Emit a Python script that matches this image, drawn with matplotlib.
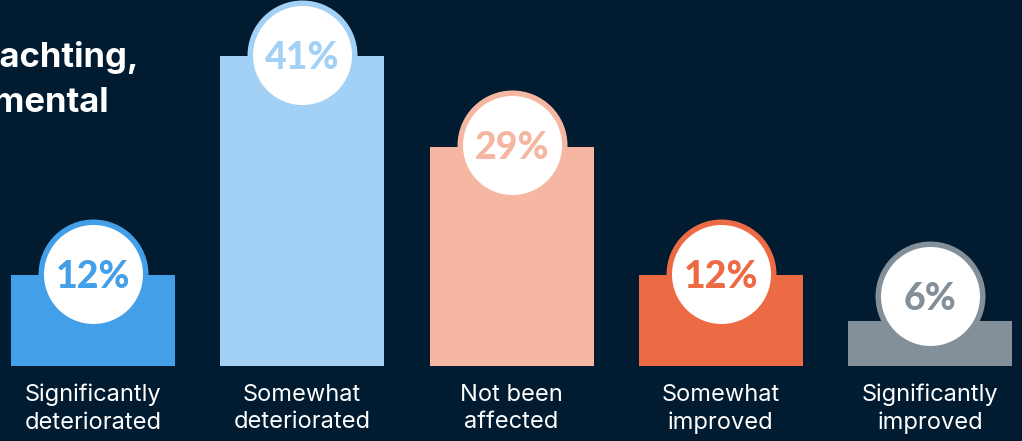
import matplotlib
matplotlib.use("Agg")
import matplotlib.pyplot as plt

categories = ["Significantly\ndeteriorated", "Somewhat\ndeteriorated", "Not been\naffected",
              "Somewhat\nimproved", "Significantly\nimproved"]
values = [12, 41, 29, 12, 6]
labels = ["12%", "41%", "29%", "12%", "6%"]
colors = ["#439fe8", "#a3d0f5", "#f5b7a2", "#ec6b45", "#838f99"]
title_lines = ["Since you started yachting,", "how has your mental"]

BG = "#011b31"
W, H, DPI = 1022, 441, 100
fig = plt.figure(figsize=(W / DPI, H / DPI), dpi=DPI, facecolor=BG)
ax = fig.add_axes([0, 0, 1, 1])
ax.set_facecolor(BG)

px_x = 209.25          # pixels per category step
px_y = 7.56            # pixels per percent
x0_px = 93             # first bar center
base_px = 75           # baseline from bottom
ax.set_xlim(-x0_px / px_x, (W - x0_px) / px_x)
ax.set_ylim(-base_px / px_y, (H - base_px) / px_y)
ax.axis("off")

xs = list(range(len(values)))
ax.bar(xs, values, width=164 / px_x, color=colors, zorder=1)

pt = 72 / DPI
outer_d = 110 * pt
inner_d = 99 * pt
for x, v, c, lab in zip(xs, values, colors, labels):
    cy = max(v + 0.2, 9.3)
    ax.scatter([x], [cy], s=outer_d ** 2, color=c, zorder=2, linewidths=0)
    ax.scatter([x], [cy], s=inner_d ** 2, color="white", zorder=3, linewidths=0)
    ax.text(x, cy, lab, ha="center", va="center_baseline", color=c,
            fontsize=27, fontweight="black", family="Lato", zorder=4)

for x, cat in zip(xs, categories):
    ax.text(x, -18 / px_y, cat, ha="center", va="top", color="white",
            fontsize=17, family="Inter", linespacing=1.3)

fig.text(139 / W, 1 - 58 / H, title_lines[0], ha="right", va="center",
         color="white", fontsize=25, fontweight="bold", family="Inter")
fig.text(109 / W, 1 - 103 / H, title_lines[1], ha="right", va="center",
         color="white", fontsize=25, fontweight="bold", family="Inter")

fig.savefig("out.png", dpi=DPI, facecolor=BG)
